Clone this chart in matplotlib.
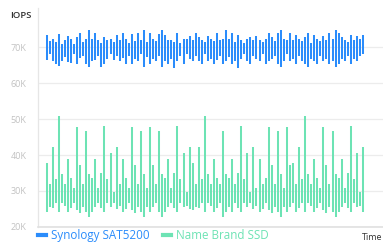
import numpy as np
import matplotlib
matplotlib.use('Agg')
import matplotlib.pyplot as plt
from matplotlib.lines import Line2D

plt.rcParams['font.family'] = ['Open Sans', 'DejaVu Sans']

# IOPS in thousands, one low/high range per sample
synology_high = [73.5, 71.9, 72.4, 71.5, 73.7, 71.1, 72.0, 73.3, 72.4, 71.1, 72.8, 73.9, 71.5, 72.4, 75.0,
                 72.4, 73.9, 72.0, 71.3, 73.0, 72.0, 72.4, 71.5, 73.5, 72.0, 73.9, 72.4, 71.3, 73.7, 71.9,
                 73.9, 72.0, 75.0, 71.5, 73.9, 72.4, 71.9, 73.7, 75.0, 73.5, 72.2, 72.0, 71.5, 73.9, 71.3,
                 72.4, 72.4, 73.3, 72.0, 73.9, 73.0, 72.0, 71.5, 73.3, 72.4, 71.9, 73.9, 72.0, 72.4, 75.0,
                 72.4, 73.9, 71.5, 73.5, 72.0, 71.3, 72.4, 73.0, 72.0, 73.3, 72.0, 71.5, 72.4, 73.9, 73.0,
                 71.7, 73.9, 75.0, 72.4, 72.0, 73.9, 72.2, 73.5, 72.4, 71.9, 73.0, 73.9, 71.3, 73.5, 72.4,
                 71.9, 73.3, 72.0, 73.9, 72.4, 75.0, 73.9, 73.0, 72.0, 71.5, 73.5, 72.0, 73.3, 72.4, 73.5]
synology_low = [66.5, 68.3, 66.1, 65.3, 64.8, 66.1, 67.4, 65.9, 65.7, 68.3, 65.5, 67.0, 67.6, 65.3, 64.6,
                66.1, 66.5, 67.6, 64.6, 65.5, 66.8, 68.3, 66.5, 67.6, 66.1, 67.0, 65.3, 67.6, 65.5, 66.8,
                66.1, 68.3, 64.6, 67.4, 65.5, 66.8, 66.1, 67.6, 64.6, 66.1, 65.3, 66.8, 64.4, 66.1, 67.6,
                65.5, 68.3, 66.8, 66.1, 67.6, 66.1, 65.5, 68.3, 66.1, 66.8, 65.3, 66.5, 67.6, 65.3, 66.1,
                67.4, 65.5, 66.1, 64.4, 66.8, 68.3, 66.1, 65.3, 67.6, 66.8, 66.1, 68.3, 65.5, 66.1, 66.8,
                67.6, 65.3, 64.6, 66.1, 68.3, 66.1, 66.8, 65.5, 67.6, 66.1, 65.3, 64.6, 66.8, 66.1, 65.5,
                67.6, 66.1, 66.8, 65.3, 66.1, 64.6, 65.3, 66.8, 66.1, 67.6, 65.5, 66.8, 66.1, 67.6, 68.3]

brand_high = [37.8, 31.8, 42.3, 33.2, 50.8, 34.7, 31.9, 38.9, 33.5, 30.7, 47.9, 37.1, 31.9, 46.6, 34.7,
              33.5, 38.9, 30.7, 35.0, 48.0, 33.2, 40.6, 29.8, 42.1, 31.9, 38.9, 33.5, 30.7, 47.9, 37.1,
              31.9, 46.6, 34.7, 30.7, 47.9, 37.1, 31.9, 46.6, 34.7, 33.5, 38.9, 30.7, 35.0, 48.0, 33.2,
              40.6, 29.8, 42.1, 37.8, 31.9, 42.3, 33.2, 50.8, 34.7, 31.9, 38.9, 33.5, 31.9, 46.6, 34.7,
              33.5, 38.9, 31.9, 35.0, 48.0, 33.2, 40.6, 29.8, 42.1, 30.7, 38.9, 31.9, 33.5, 47.9, 37.1,
              31.9, 46.6, 34.7, 30.7, 47.9, 37.1, 37.8, 31.9, 42.3, 33.2, 50.8, 34.7, 31.9, 38.9, 33.5,
              30.7, 47.9, 37.1, 31.9, 46.6, 34.7, 33.5, 38.9, 30.7, 35.0, 48.0, 33.2, 40.6, 29.8, 42.1]
brand_low = [24.0, 25.4, 25.1, 26.5, 24.0, 26.5, 25.7, 24.0, 25.1, 26.7, 24.6, 23.7, 25.4, 24.0, 22.7,
             24.1, 25.4, 26.7, 25.1, 24.0, 26.5, 25.4, 26.7, 25.0, 25.9, 24.0, 25.0, 26.7, 24.6, 23.7,
             25.4, 24.0, 22.7, 25.4, 24.0, 25.4, 26.5, 24.0, 22.7, 24.1, 25.4, 26.7, 25.1, 24.0, 26.5,
             25.4, 25.7, 25.0, 24.6, 25.4, 25.1, 26.5, 24.0, 26.5, 25.7, 24.0, 25.1, 26.7, 22.7, 24.0,
             25.4, 24.1, 26.7, 25.1, 24.0, 26.5, 25.4, 26.7, 25.0, 25.9, 24.0, 25.0, 26.7, 24.6, 23.7,
             25.4, 24.0, 22.7, 25.4, 24.0, 25.4, 26.5, 24.0, 25.1, 26.5, 24.0, 26.5, 25.7, 24.0, 25.1,
             26.7, 24.6, 23.7, 25.4, 24.0, 22.7, 24.1, 25.4, 26.7, 25.1, 24.0, 26.5, 25.4, 25.7, 24.0]

series_names = ['Synology SAT5200', 'Name Brand SSD']
y_ticks = [20, 30, 40, 50, 60, 70]
y_tick_labels = ['20K', '30K', '40K', '50K', '60K', '70K']

blue = '#2b8cfb'
green = '#6de3b4'

fig = plt.figure(figsize=(3.83, 2.43), dpi=100)
ax = fig.add_axes([0.098, 0.067, 0.902, 0.9])

x = np.arange(len(synology_high))
ax.vlines(x, brand_low, brand_high, colors=green, linewidth=1.45)
ax.vlines(x, synology_low, synology_high, colors=blue, linewidth=1.45)

ax.set_xlim(-3, 110.6)
ax.set_ylim(20, 81)
ax.set_yticks(y_ticks)
ax.set_yticklabels(y_tick_labels)
ax.set_xticks([])
ax.tick_params(axis='y', length=0, pad=8, labelsize=6.5, labelcolor='#c2c2c2')

ax.grid(axis='y', color='#ececec', linewidth=0.9)
ax.set_axisbelow(True)
for s in ['top', 'right']:
    ax.spines[s].set_visible(False)
ax.spines['left'].set_color('#e6e6e6')
ax.spines['bottom'].set_color('#e0e0e0')
ax.spines['left'].set_linewidth(0.9)
ax.spines['bottom'].set_linewidth(1.2)

fig.text(0.026, 0.925, 'IOPS', fontsize=6.8, color='#333333', fontweight='semibold')
fig.text(0.945, 0.012, 'Time', fontsize=6.5, color='#333333')

handles = [Line2D([0], [0], color=blue, linewidth=3),
           Line2D([0], [0], color=green, linewidth=3)]
fig.legend(handles, series_names, loc='center left', bbox_to_anchor=(0.084, 0.03),
           ncol=2, frameon=False, fontsize=8.4, labelcolor=[blue, green],
           handlelength=0.7, handletextpad=0.45, columnspacing=1.1, borderpad=0)

fig.savefig('out.png', dpi=100)
